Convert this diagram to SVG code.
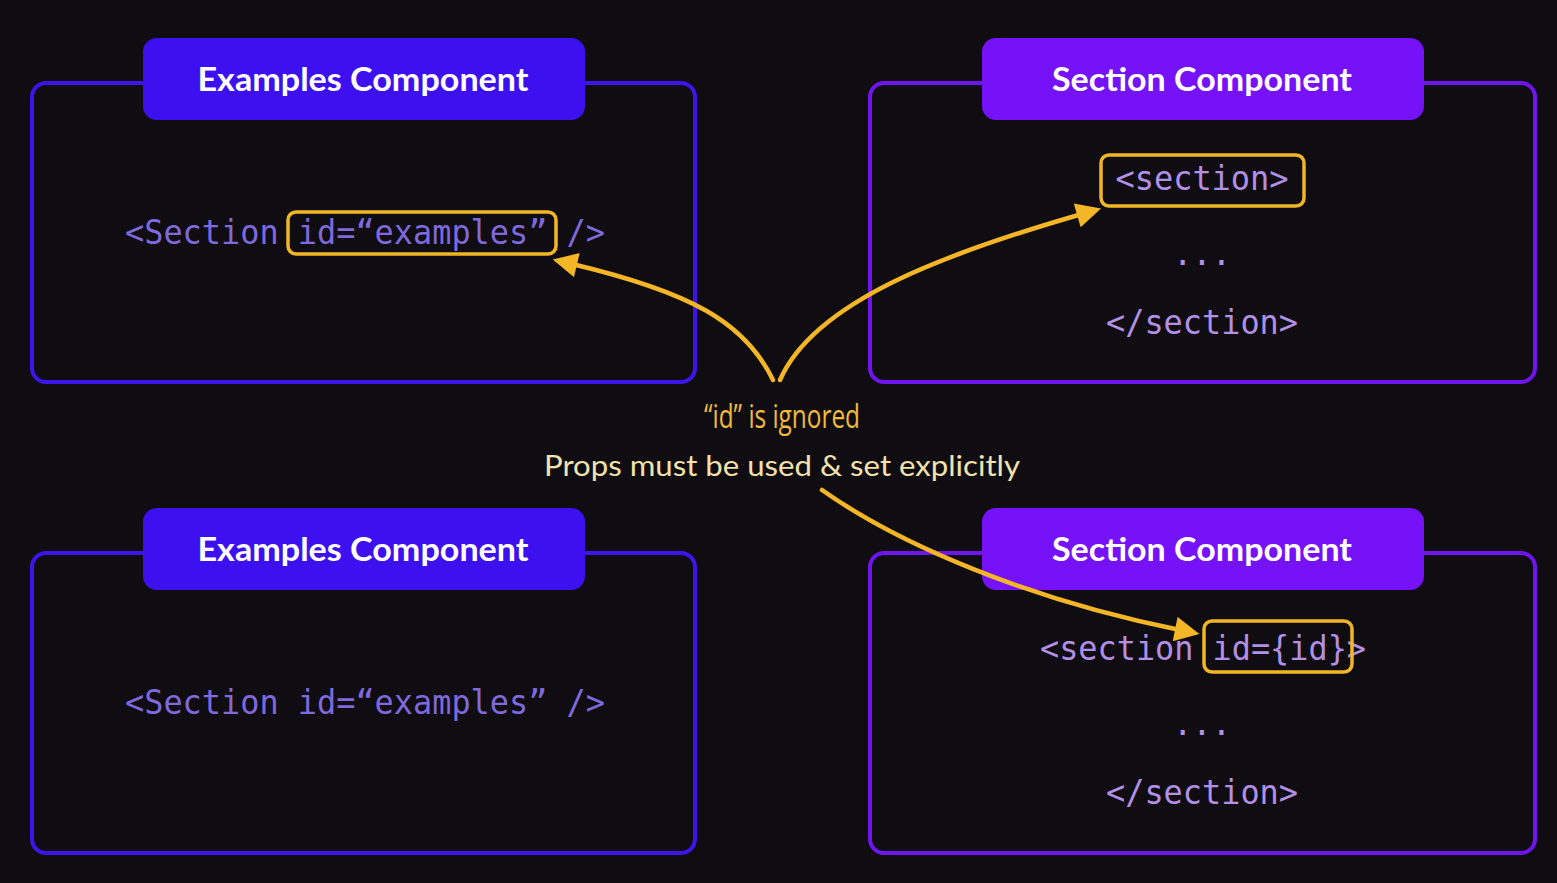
<svg xmlns="http://www.w3.org/2000/svg" width="1557" height="883" viewBox="0 0 1557 883">
  <defs>
    <style>
      .frame { fill: none; stroke-width: 4; }
      .frame-blue { stroke: #3d14ea; }
      .frame-violet { stroke: #6f14ef; }
      .pill-blue { fill: #3d10f0; }
      .pill-violet { fill: #7512f7; }
      .title { font-family: Lato, "Open Sans", sans-serif; font-weight: 700; font-size: 32px; fill: #ffffff; text-anchor: middle; }
      .code { font-family: "DejaVu Sans Mono", "Liberation Mono", monospace; font-size: 34px; text-anchor: middle; }
      .code-blue { fill: #7f69dc; }
      .code-lilac { fill: #b38fe6; }
      .hl { fill: none; stroke: #f2b624; stroke-width: 3.5; }
      .note { font-family: "Open Sans", sans-serif; font-size: 32px; fill: #f2b93a; text-anchor: middle; }
      .caption { font-family: Lato, "Open Sans", sans-serif; font-size: 29px; fill: #f3e2ab; text-anchor: middle; }
      .arrow { fill: none; stroke: #f4b526; stroke-width: 4.5; stroke-linecap: round; }
    </style>
    <marker id="head" viewBox="0 0 10 10" refX="2" refY="5" markerWidth="6" markerHeight="5.5" markerUnits="strokeWidth" orient="auto">
      <path d="M0,0 L10,5 L0,10 Z" fill="#f4b526"/>
    </marker>
  </defs>

  <rect width="1557" height="883" fill="#0f0d12"/>

  <!-- top-left: Examples Component -->
  <g id="examples-top">
    <rect class="frame frame-blue" x="32" y="83" width="663" height="299" rx="14"/>
    <rect class="pill-blue" x="143" y="38" width="442" height="82" rx="14"/>
    <text class="title" x="363" y="91" textLength="331" lengthAdjust="spacingAndGlyphs">Examples Component</text>
    <text class="code code-blue" x="365" y="244" textLength="480" lengthAdjust="spacingAndGlyphs">&lt;Section id=“examples” /&gt;</text>
    <rect class="hl" x="288" y="212" width="268" height="42" rx="8"/>
  </g>

  <!-- top-right: Section Component -->
  <g id="section-top">
    <rect class="frame frame-violet" x="870" y="83" width="665" height="299" rx="14"/>
    <rect class="pill-violet" x="982" y="38" width="442" height="82" rx="14"/>
    <text class="title" x="1202" y="91" textLength="300" lengthAdjust="spacingAndGlyphs">Section Component</text>
    <text class="code code-lilac" x="1202" y="190" textLength="173" lengthAdjust="spacingAndGlyphs">&lt;section&gt;</text>
    <rect class="hl" x="1101" y="155" width="203" height="51" rx="8"/>
    <text class="code code-lilac" x="1202" y="265" textLength="58" lengthAdjust="spacingAndGlyphs">...</text>
    <text class="code code-lilac" x="1202" y="334" textLength="192" lengthAdjust="spacingAndGlyphs">&lt;/section&gt;</text>
  </g>

  <!-- bottom-left: Examples Component -->
  <g id="examples-bottom">
    <rect class="frame frame-blue" x="32" y="553" width="663" height="300" rx="14"/>
    <rect class="pill-blue" x="143" y="508" width="442" height="82" rx="14"/>
    <text class="title" x="363" y="561" textLength="331" lengthAdjust="spacingAndGlyphs">Examples Component</text>
    <text class="code code-blue" x="365" y="714" textLength="480" lengthAdjust="spacingAndGlyphs">&lt;Section id=“examples” /&gt;</text>
  </g>

  <!-- bottom-right: Section Component -->
  <g id="section-bottom">
    <rect class="frame frame-violet" x="870" y="553" width="665" height="300" rx="14"/>
    <rect class="pill-violet" x="982" y="508" width="442" height="82" rx="14"/>
    <text class="title" x="1202" y="561" textLength="300" lengthAdjust="spacingAndGlyphs">Section Component</text>
    <text class="code code-lilac" x="1203" y="660" textLength="326" lengthAdjust="spacingAndGlyphs">&lt;section id={id}&gt;</text>
    <rect class="hl" x="1204" y="621" width="148" height="51" rx="8"/>
    <text class="code code-lilac" x="1202" y="735" textLength="58" lengthAdjust="spacingAndGlyphs">...</text>
    <text class="code code-lilac" x="1202" y="804" textLength="192" lengthAdjust="spacingAndGlyphs">&lt;/section&gt;</text>
  </g>

  <!-- central notes -->
  <g id="notes">
    <text class="note" x="782" y="428" textLength="156" lengthAdjust="spacingAndGlyphs">“id” is ignored</text>
    <text class="caption" x="782" y="476" textLength="476" lengthAdjust="spacingAndGlyphs">Props must be used &amp; set explicitly</text>
  </g>

  <!-- connectors -->
  <g id="connectors">
    <path class="arrow" marker-end="url(#head)" d="M773,380 C745,322 690,292 572,264"/>
    <path class="arrow" marker-end="url(#head)" d="M780,380 C815,300 950,252 1082,214"/>
    <path class="arrow" marker-end="url(#head)" d="M822,490 C900,545 1030,600 1180,630"/>
  </g>
</svg>
